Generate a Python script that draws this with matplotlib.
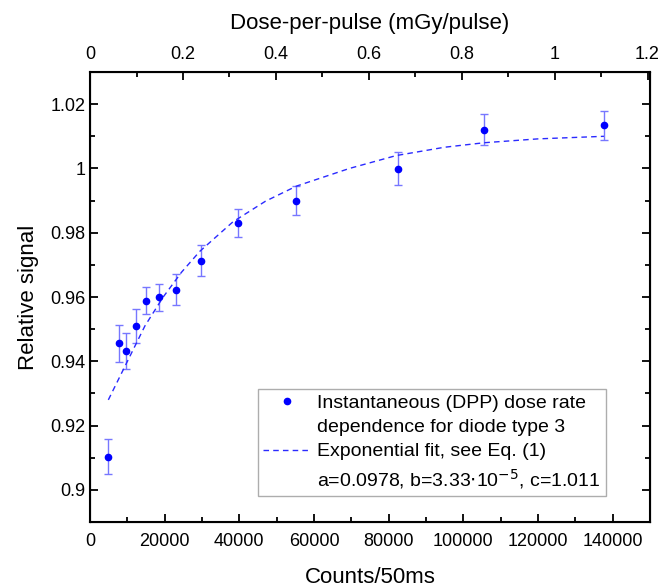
# Respuesta relativa del diodo frente a la tasa de dosis instantánea (DPP)

import matplotlib.pyplot as plt
from matplotlib.lines import Line2D
from matplotlib.ticker import MultipleLocator, FuncFormatter

plt.rcParams['font.family'] = ['Liberation Sans', 'DejaVu Sans']

# Datos medidos (Counts/50ms, señal relativa, incertidumbre)
counts = [4900, 7750, 9700, 12400, 14900, 18400, 22900, 29600, 39700, 55100, 82400, 105600, 137700]
signal = [0.9103, 0.9456, 0.9432, 0.9509, 0.9588, 0.9599, 0.9623, 0.9713, 0.9831, 0.9900, 0.9999, 1.0120, 1.0134]
signal_err = [0.0055, 0.0058, 0.0056, 0.0053, 0.0042, 0.0042, 0.0049, 0.0049, 0.0044, 0.0046, 0.0051, 0.0048, 0.0045]

# Curva de ajuste (puntos leídos sobre la línea discontinua)
fit_counts = [4900, 9800, 14700, 19600, 24500, 29400, 38300, 47000, 55300, 69500, 82000, 95000, 105600, 120000, 137700]
fit_signal = [0.928, 0.9395, 0.951, 0.960, 0.9677, 0.9742, 0.9834, 0.9898, 0.9945, 1.0000, 1.0040, 1.0066, 1.0080, 1.0092, 1.0100]

# Eje superior
dpp_ticks = [0, 0.2, 0.4, 0.6, 0.8, 1.0, 1.2]

fig = plt.figure(figsize=(6.72, 5.87), dpi=100)
ax = fig.add_axes([0.134, 0.1107, 0.833, 0.7666])

ax.errorbar(counts, signal, yerr=signal_err, fmt='none', ecolor='#7777ff',
            elinewidth=1.0, capsize=3, capthick=1.0, zorder=2)
ax.plot(counts, signal, 'o', color='#0000ff', markersize=4.5, zorder=3)
ax.plot(fit_counts, fit_signal, linestyle=(0, (4, 3)), color='#2a2aff', linewidth=1.0, zorder=2)

ax.set_xlim(0, 150000)
ax.set_ylim(0.89, 1.03)
ax.xaxis.set_major_locator(MultipleLocator(20000))
ax.xaxis.set_minor_locator(MultipleLocator(10000))
ax.yaxis.set_major_locator(MultipleLocator(0.02))
ax.yaxis.set_minor_locator(MultipleLocator(0.01))
ax.yaxis.set_major_formatter(FuncFormatter(lambda v, p: f"{v:g}"))
ax.tick_params(which='both', direction='in', right=True, labelsize=13, width=1.3)
ax.tick_params(axis='x', which='both', pad=8)
ax.tick_params(which='major', length=6)
ax.tick_params(which='minor', length=3.5)
ax.set_xlabel("Counts/50ms", fontsize=16, labelpad=12)
ax.set_ylabel("Relative signal", fontsize=16, labelpad=8)
for sp in ax.spines.values():
    sp.set_linewidth(1.5)

# Eje superior: dosis por pulso
ax_top = ax.twiny()
ax_top.set_xlim(0, 1.205)
ax_top.set_xticks(dpp_ticks)
ax_top.xaxis.set_minor_locator(MultipleLocator(0.1))
ax_top.xaxis.set_major_formatter(FuncFormatter(lambda v, p: f"{v:g}"))
ax_top.tick_params(which='both', direction='in', labelsize=13, width=1.3, pad=6.5)
ax_top.tick_params(which='major', length=6)
ax_top.tick_params(which='minor', length=3.5)
ax_top.set_xlabel("Dose-per-pulse (mGy/pulse)", fontsize=16, labelpad=12)

# Leyenda con entradas de dos líneas
handles = [
    Line2D([], [], marker='o', linestyle='none', color='#0000ff', markersize=4.5),
    Line2D([], [], linestyle='none'),
    Line2D([], [], linestyle=(0, (4, 3)), color='#2a2aff', linewidth=1.0),
    Line2D([], [], linestyle='none'),
]
labels = [
    "Instantaneous (DPP) dose rate",
    "dependence for diode type 3",
    "Exponential fit, see Eq. (1)",
    r"a=0.0978, b=3.33$\cdot$10$^{-5}$, c=1.011",
]
leg = ax.legend(handles, labels, loc='lower right', bbox_to_anchor=(0.921, 0.058),
                fontsize=14, frameon=True, fancybox=False, borderpad=0.25,
                labelspacing=0.35, handlelength=2.5, handletextpad=0.3,
                borderaxespad=0)
leg.get_frame().set_edgecolor('#999999')
leg.get_frame().set_linewidth(1.0)

fig.savefig("out.png", dpi=100)
